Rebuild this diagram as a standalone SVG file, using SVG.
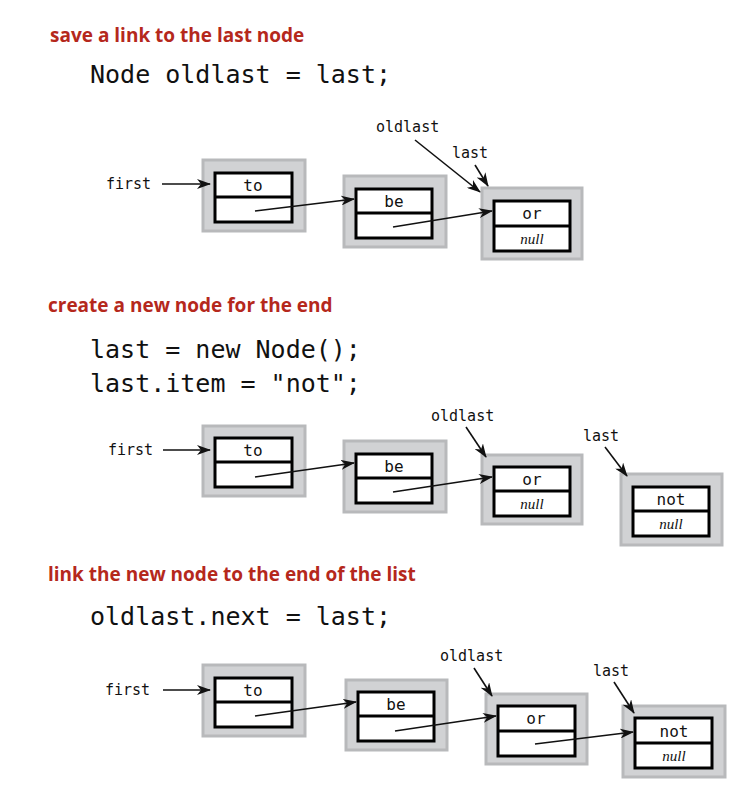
<svg xmlns="http://www.w3.org/2000/svg" width="744" height="808" viewBox="0 0 744 808">
<style>
.h{font-family:"Open Sans","Liberation Sans",sans-serif;font-weight:bold;font-size:19px;fill:#b5281c}
.c{font-family:"DejaVu Sans Mono",monospace;font-size:25px;fill:#111}
.l{font-family:"DejaVu Sans Mono",monospace;font-size:15px;fill:#111}
.v{font-family:"DejaVu Sans Mono",monospace;font-size:16px;fill:#111;text-anchor:middle}
.n{font-family:"Liberation Serif",serif;font-style:italic;font-size:15px;fill:#111;text-anchor:middle}
.o{fill:#d1d2d4;stroke:#b8b9bb;stroke-width:3}
.i{fill:#fff;stroke:#000;stroke-width:3}
.a{stroke:#111;stroke-width:1.6;fill:none;marker-end:url(#m)}
</style>
<defs><marker id="m" markerWidth="14" markerHeight="10" refX="13" refY="5" orient="auto" markerUnits="userSpaceOnUse"><path d="M0,0 L14,5 L0,10 L4,5 Z" fill="#111"/></marker></defs>
<rect width="744" height="808" fill="#fff"/>
<text class="h" x="50" y="42">save a link to the last node</text>
<text class="c" x="90" y="83">Node oldlast = last;</text>
<text class="h" x="48" y="312">create a new node for the end</text>
<text class="c" x="90" y="358">last = new Node();</text>
<text class="c" x="90" y="392">last.item = "not";</text>
<text class="h" x="48" y="581">link the new node to the end of the list</text>
<text class="c" x="90" y="625">oldlast.next = last;</text>
<g id="labels">
<text class="l" x="106" y="189">first</text><text class="l" x="376" y="132">oldlast</text><text class="l" x="452" y="158">last</text>
<text class="l" x="108" y="455">first</text><text class="l" x="431" y="421">oldlast</text><text class="l" x="583" y="441">last</text>
<text class="l" x="105" y="695">first</text><text class="l" x="440" y="661">oldlast</text><text class="l" x="593" y="676">last</text>
</g>
<g id="n1-to"><rect class="o" x="203" y="160" width="102" height="71"/><rect class="i" x="215" y="173" width="77" height="49"/><line x1="215" y1="197" x2="292" y2="197" stroke="#000" stroke-width="3"/><text class="v" x="253" y="191">to</text></g>
<g id="n1-be"><rect class="o" x="344" y="176" width="102" height="71"/><rect class="i" x="356" y="189" width="76" height="49"/><line x1="356" y1="213" x2="432" y2="213" stroke="#000" stroke-width="3"/><text class="v" x="394" y="207">be</text></g>
<g id="n1-or"><rect class="o" x="482" y="188" width="100" height="71"/><rect class="i" x="494" y="201" width="76" height="50"/><line x1="494" y1="226" x2="570" y2="226" stroke="#000" stroke-width="3"/><text class="v" x="532" y="219">or</text><text class="n" x="532" y="244">null</text></g>
<g id="n2-to"><rect class="o" x="203" y="426" width="102" height="70"/><rect class="i" x="215" y="438" width="77" height="49"/><line x1="215" y1="462" x2="292" y2="462" stroke="#000" stroke-width="3"/><text class="v" x="253" y="456">to</text></g>
<g id="n2-be"><rect class="o" x="344" y="441" width="102" height="71"/><rect class="i" x="356" y="454" width="76" height="49"/><line x1="356" y1="478" x2="432" y2="478" stroke="#000" stroke-width="3"/><text class="v" x="394" y="472">be</text></g>
<g id="n2-or"><rect class="o" x="482" y="455" width="100" height="69"/><rect class="i" x="494" y="467" width="76" height="49"/><line x1="494" y1="491" x2="570" y2="491" stroke="#000" stroke-width="3"/><text class="v" x="532" y="485">or</text><text class="n" x="532" y="509">null</text></g>
<g id="n2-not"><rect class="o" x="621" y="474" width="101" height="71"/><rect class="i" x="633" y="487" width="76" height="49"/><line x1="633" y1="511" x2="709" y2="511" stroke="#000" stroke-width="3"/><text class="v" x="671" y="505">not</text><text class="n" x="671" y="529">null</text></g>
<g id="n3-to"><rect class="o" x="203" y="665" width="102" height="71"/><rect class="i" x="215" y="678" width="77" height="49"/><line x1="215" y1="702" x2="292" y2="702" stroke="#000" stroke-width="3"/><text class="v" x="253" y="696">to</text></g>
<g id="n3-be"><rect class="o" x="346" y="680" width="101" height="70"/><rect class="i" x="358" y="692" width="76" height="49"/><line x1="358" y1="716" x2="434" y2="716" stroke="#000" stroke-width="3"/><text class="v" x="396" y="710">be</text></g>
<g id="n3-or"><rect class="o" x="486" y="694" width="101" height="70"/><rect class="i" x="498" y="706" width="77" height="50"/><line x1="498" y1="731" x2="575" y2="731" stroke="#000" stroke-width="3"/><text class="v" x="536" y="724">or</text></g>
<g id="n3-not"><rect class="o" x="623" y="706" width="102" height="71"/><rect class="i" x="635" y="718" width="77" height="50"/><line x1="635" y1="743" x2="712" y2="743" stroke="#000" stroke-width="3"/><text class="v" x="674" y="737">not</text><text class="n" x="674" y="761">null</text></g>
<g id="connectors">
<line class="a" x1="162" y1="184" x2="210" y2="184"/>
<line class="a" x1="255" y1="211" x2="354" y2="199"/>
<line class="a" x1="393" y1="227" x2="492" y2="211"/>
<line class="a" x1="415" y1="140" x2="480" y2="192"/>
<line class="a" x1="475" y1="165" x2="488" y2="186"/>
<line class="a" x1="163" y1="450" x2="210" y2="450"/>
<line class="a" x1="255" y1="477" x2="354" y2="463"/>
<line class="a" x1="393" y1="492" x2="492" y2="477"/>
<line class="a" x1="466" y1="427" x2="486" y2="457"/>
<line class="a" x1="605" y1="447" x2="627" y2="476"/>
<line class="a" x1="163" y1="690" x2="210" y2="690"/>
<line class="a" x1="255" y1="716" x2="356" y2="702"/>
<line class="a" x1="395" y1="731" x2="496" y2="716"/>
<line class="a" x1="535" y1="744" x2="633" y2="732"/>
<line class="a" x1="474" y1="668" x2="492" y2="696"/>
<line class="a" x1="614" y1="682" x2="634" y2="713"/>
</g>
</svg>
